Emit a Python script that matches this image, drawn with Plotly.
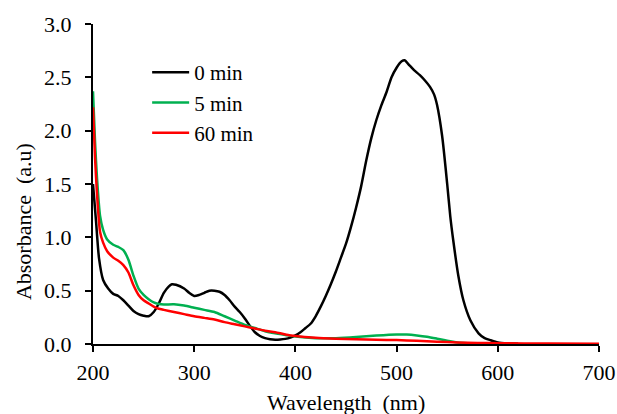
import plotly.graph_objects as go

# 0 min
wl_0 = [200, 203, 206, 210, 215, 220, 225, 230, 235, 240, 245, 250, 255, 260, 265, 270, 275, 278, 282,
        290, 295, 300, 305, 310, 315, 320, 325, 330, 335, 340, 345, 350, 355, 360, 365, 370, 375, 380,
        385, 390, 395, 400, 405, 410, 415, 420, 425, 430, 435, 440, 445, 450, 455, 460, 465, 470, 475,
        480, 485, 490, 495, 500, 505, 508, 512, 517, 523, 528, 533, 537, 540, 545, 550, 553, 556, 561,
        566, 573, 581, 587, 593, 600, 610, 620]
abs_0 = [1.5, 1.15, 0.8, 0.6, 0.52, 0.47, 0.45, 0.41, 0.36, 0.31, 0.28, 0.265, 0.26, 0.30, 0.38, 0.48,
         0.54, 0.56, 0.555, 0.52, 0.48, 0.45, 0.46, 0.48, 0.50, 0.50, 0.49, 0.46, 0.41, 0.35, 0.30, 0.24,
         0.17, 0.11, 0.075, 0.055, 0.045, 0.04, 0.042, 0.048, 0.06, 0.08, 0.11, 0.15, 0.19, 0.26, 0.35,
         0.45, 0.56, 0.68, 0.81, 0.94, 1.10, 1.28, 1.48, 1.72, 1.93, 2.10, 2.24, 2.36, 2.50, 2.59, 2.65,
         2.66, 2.62, 2.57, 2.52, 2.47, 2.41, 2.34, 2.24, 1.95, 1.50, 1.20, 0.97, 0.64, 0.41, 0.22, 0.10,
         0.055, 0.035, 0.015, 0.006, 0.002]

# 5 min
wl_5 = [200, 202, 204, 207, 210, 214, 220, 225, 230, 235, 240, 245, 250, 255, 260, 265, 270, 280, 290,
        300, 310, 320, 330, 340, 350, 360, 370, 380, 390, 400, 420, 440, 460, 480, 500, 510, 520, 530,
        540, 550, 560, 570, 580, 600, 620]
abs_5 = [2.37, 1.9, 1.55, 1.2, 1.07, 0.98, 0.93, 0.91, 0.88, 0.79, 0.64, 0.52, 0.46, 0.42, 0.39, 0.375,
         0.37, 0.372, 0.36, 0.34, 0.32, 0.30, 0.26, 0.22, 0.18, 0.15, 0.12, 0.10, 0.085, 0.07, 0.055,
         0.055, 0.065, 0.08, 0.09, 0.088, 0.08, 0.068, 0.05, 0.03, 0.015, 0.008, 0.004, 0.002, 0.0]

# 60 min
wl_60 = [200, 202, 204, 207, 210, 214, 220, 225, 230, 235, 240, 245, 250, 255, 260, 265, 270, 280, 290,
         300, 310, 320, 330, 340, 350, 360, 370, 380, 390, 400, 420, 440, 460, 480, 500, 520, 540, 560,
         580, 600, 650, 700]
abs_60 = [2.22, 1.75, 1.4, 1.05, 0.95, 0.87, 0.81, 0.78, 0.74, 0.67, 0.55, 0.46, 0.41, 0.38, 0.35, 0.33,
          0.32, 0.30, 0.28, 0.26, 0.245, 0.23, 0.205, 0.185, 0.165, 0.145, 0.125, 0.11, 0.09, 0.075, 0.058,
          0.05, 0.045, 0.04, 0.037, 0.03, 0.022, 0.015, 0.01, 0.008, 0.004, 0.003]

x_ticks = [200, 300, 400, 500, 600, 700]
y_ticks = [0.0, 0.5, 1.0, 1.5, 2.0, 2.5, 3.0]

FONT = "Liberation Serif"
FS = 22

fig = go.Figure()
series = [("0 min", wl_0, abs_0, "#000000"),
          ("5 min", wl_5, abs_5, "#00B050"),
          ("60 min", wl_60, abs_60, "#FF0000")]
for name, xs, ys, col in series:
    fig.add_trace(go.Scatter(x=xs, y=ys, mode="lines", name=name, legendgroup=name,
                             line=dict(color=col, width=2.5, shape="spline", smoothing=0.7)))

axis_common = dict(showline=True, linecolor="black", linewidth=2, ticks="outside", ticklen=6,
                   tickwidth=2, tickcolor="black", showgrid=False, zeroline=False, automargin=False,
                   tickfont=dict(family=FONT, size=FS, color="black"))

fig.update_layout(
    width=617, height=414,
    margin=dict(l=93, r=18, t=24, b=70),
    paper_bgcolor="white", plot_bgcolor="white",
    font=dict(family=FONT, size=FS, color="black"),
    xaxis=dict(range=[200, 700], tickvals=x_ticks, ticktext=[str(v) for v in x_ticks],
               ticklabelstandoff=2, **axis_common),
    yaxis=dict(range=[0, 3], tickvals=y_ticks, ticktext=[f"{v:.1f}" for v in y_ticks],
               ticklabelstandoff=9, **axis_common),
    legend=dict(x=0.107, y=0.9125, xanchor="left", yanchor="top", bgcolor="rgba(0,0,0,0)",
                font=dict(family=FONT, size=21, color="black"), tracegroupgap=0, itemwidth=37),
    showlegend=True,
)

fig.add_annotation(text="Wavelength  (nm)", xref="paper", yref="paper", x=0.5, y=0,
                   xanchor="center", yanchor="top", yshift=-44, showarrow=False,
                   font=dict(family=FONT, size=FS, color="black"))
fig.add_annotation(text="Absorbance  (a.u)", xref="paper", yref="paper", x=0, y=0.381,
                   xanchor="center", yanchor="middle", xshift=-70, textangle=-90, showarrow=False,
                   font=dict(family=FONT, size=FS, color="black"))

fig.write_html("out.html", post_script="document.body.style.margin='0';",
               config={"displayModeBar": False})
